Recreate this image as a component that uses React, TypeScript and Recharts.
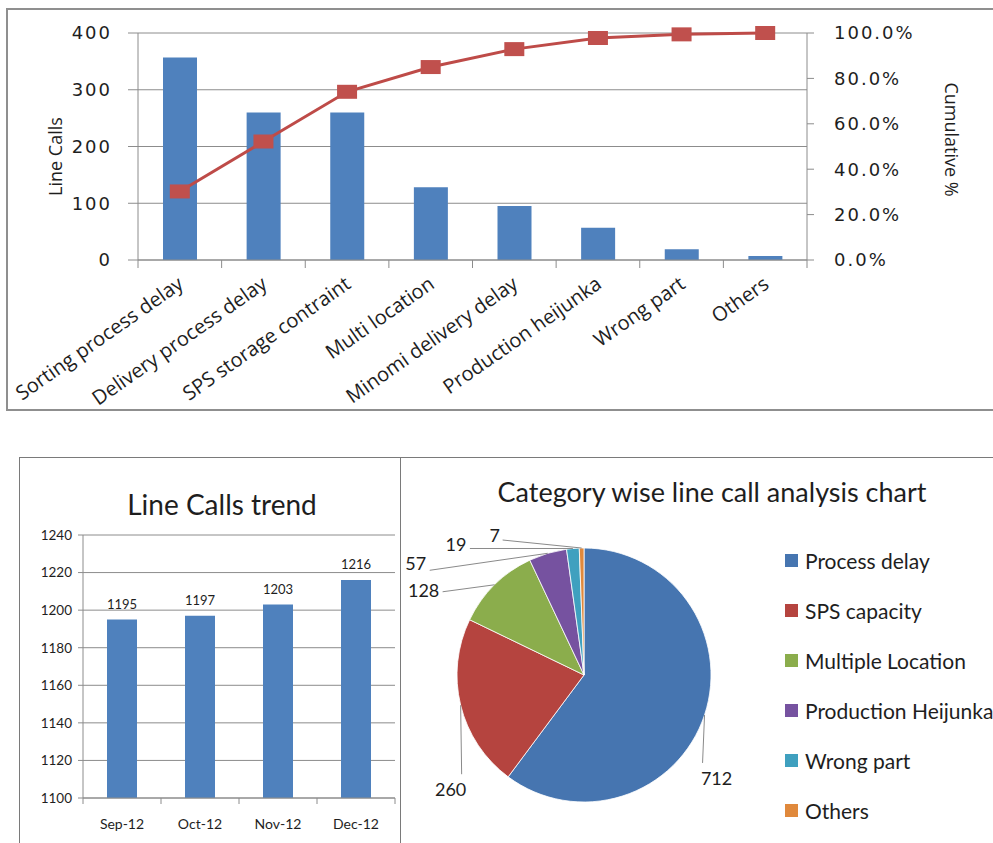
import React from 'react'
import {
    ComposedChart, BarChart, PieChart, Bar, Line, Pie, Cell, XAxis, YAxis,
    CartesianGrid, LabelList, Legend,
} from 'recharts'

// Pareto of line calls by cause
const PARETO_CATEGORIES = [
    'Sorting process delay', 'Delivery process delay', 'SPS storage contraint', 'Multi location',
    'Minomi delivery delay', 'Production heijunka', 'Wrong part', 'Others',
]
const PARETO_CALLS = [357, 260, 260, 128, 95, 57, 19, 7]
const PARETO_CUMULATIVE = [30.2, 52.2, 74.1, 85.0, 92.9, 97.8, 99.4, 100]
const CALL_TICKS = [0, 100, 200, 300, 400]
const CUM_TICKS = [0, 20, 40, 60, 80, 100]

// monthly trend
const TREND_MONTHS = ['Sep-12', 'Oct-12', 'Nov-12', 'Dec-12']
const TREND_CALLS = [1195, 1197, 1203, 1216]
const TREND_TICKS = [1100, 1120, 1140, 1160, 1180, 1200, 1220, 1240]

// category split
const PIE_NAMES = ['Process delay', 'SPS capacity', 'Multiple Location', 'Production Heijunka', 'Wrong part', 'Others']
const PIE_VALUES = [712, 260, 128, 57, 19, 7]
const PIE_COLORS = ['#4675B0', '#B5443F', '#8BAD4C', '#7652A0', '#3FA0BF', '#E0893C']

// leader line end (dx, dy from slice edge) and text offset from that end
const PIE_LABEL_LAYOUT = [
    { dx: -2, dy: 48, tx: 14, ty: 15 },
    { dx: 1, dy: 69, tx: -11, ty: 15 },
    { dx: -52, dy: 7, tx: -19, ty: -2 },
    { dx: -118, dy: 17, tx: -14, ty: -7 },
    { dx: -103, dy: 0, tx: -14, ty: -4 },
    { dx: -79, dy: -8, tx: -8, ty: -5 },
]

const paretoData = PARETO_CATEGORIES.map((name, i) => ({ name, calls: PARETO_CALLS[i], cum: PARETO_CUMULATIVE[i] }))
const trendData = TREND_MONTHS.map((month, i) => ({ month, calls: TREND_CALLS[i] }))
const pieData = PIE_NAMES.map((name, i) => ({ name, value: PIE_VALUES[i] }))

const GRID = '#8c8c8c'
const TEXT = '#1e1e1e'
const TOP_W = 993
const TOP_LEFT = 138
const TOP_RIGHT = 186
const TOP_STEP = (TOP_W - TOP_LEFT - TOP_RIGHT) / PARETO_CATEGORIES.length
const TREND_STEP = (380 - 63 - 5) / TREND_MONTHS.length
const RAD = Math.PI / 180

const ParetoTick = (props: any) => {
    const { x, y, payload, index } = props
    const half = TOP_STEP / 2
    return (
        <g>
            <line x1={x - half} x2={x - half} y1={y} y2={y + 8} stroke={GRID} />
            {index === PARETO_CATEGORIES.length - 1 && (
                <line x1={x + half} x2={x + half} y1={y} y2={y + 8} stroke={GRID} />
            )}
            <text
                transform={`translate(${x + 5},${y + 27}) rotate(-35)`}
                textAnchor="end"
                fontFamily="Open Sans"
                fontSize={20}
                fill={TEXT}
            >
                {payload.value}
            </text>
        </g>
    )
}

const TrendTick = (props: any) => {
    const { x, y, payload, index } = props
    const half = TREND_STEP / 2
    return (
        <g>
            <line x1={x - half} x2={x - half} y1={y} y2={y + 6} stroke={GRID} />
            {index === TREND_MONTHS.length - 1 && (
                <line x1={x + half} x2={x + half} y1={y} y2={y + 6} stroke={GRID} />
            )}
            <text x={x} y={y + 25} textAnchor="middle" dominantBaseline="central" fontFamily="Lato" fontSize={14} fill={TEXT}>
                {payload.value}
            </text>
        </g>
    )
}

const SquareDot = (props: any) => {
    const { cx, cy, index } = props
    return <rect key={index} x={cx - 10} y={cy - 7} width={20} height={14} fill="#C0504D" />
}

const axisTitle = (text: string, dx: number, dy: number, angle: number) => (props: any) => {
    const vb = props.viewBox
    const x = vb.x + dx
    const y = vb.y + vb.height / 2 + dy
    return (
        <text x={x} y={y} transform={`rotate(${angle} ${x} ${y})`} textAnchor="middle" dominantBaseline="central"
            fontFamily="Open Sans" fontSize={18} fill={TEXT}>
            {text}
        </text>
    )
}

const renderPieLabel = (props: any) => {
    const { cx, cy, midAngle, outerRadius, value, index } = props
    const l = PIE_LABEL_LAYOUT[index]
    const ax = cx + outerRadius * Math.cos(-midAngle * RAD)
    const ay = cy + outerRadius * Math.sin(-midAngle * RAD)
    const ex = ax + l.dx
    const ey = ay + l.dy
    return (
        <g key={index}>
            <polyline points={`${ax},${ay} ${ex},${ey}`} stroke="#8a8a8a" fill="none" />
            <text x={ex + l.tx} y={ey + l.ty} textAnchor="middle" dominantBaseline="central"
                fontFamily="Lato" fontSize={18} fill={TEXT}>
                {value}
            </text>
        </g>
    )
}

// legend kept in the data order (the built-in one sorts by name)
const PieLegend = () => (
    <div>
        {pieData.map((d, i) => (
            <div key={d.name} style={{ height: 50, display: 'flex', alignItems: 'center', whiteSpace: 'nowrap' }}>
                <span style={{ width: 13, height: 13, background: PIE_COLORS[i], marginRight: 7, display: 'inline-block' }} />
                <span style={{ fontFamily: 'Lato', fontSize: 21, color: TEXT }}>{d.name}</span>
            </div>
        ))}
    </div>
)

export default function App() {
    return (
        <div style={{ position: 'absolute', left: 0, top: 0, width: 993, height: 843, background: '#fff', overflow: 'hidden' }}>
            {/* frames */}
            <div style={{ position: 'absolute', left: 6, top: 8, width: 1010, height: 399, border: '2px solid #8f8f8f' }} />
            <div style={{ position: 'absolute', left: 19, top: 457, width: 380, height: 420, border: '1.5px solid #7a7a7a' }} />
            <div style={{ position: 'absolute', left: 400, top: 457, width: 620, height: 420, borderTop: '1.5px solid #7a7a7a' }} />

            <div style={{ position: 'absolute', left: 0, top: 0 }}>
                <ComposedChart width={TOP_W} height={410} data={paretoData} margin={{ top: 33, right: 0, bottom: 0, left: 0 }}>
                    <CartesianGrid yAxisId="left" vertical={false} stroke={GRID} />
                    <XAxis dataKey="name" interval={0} height={150} tickSize={0} tickMargin={0} stroke={GRID}
                        tick={(p: any) => <ParetoTick {...p} />} />
                    <YAxis yAxisId="left" width={TOP_LEFT} domain={[0, 400]} ticks={CALL_TICKS} stroke={GRID}
                        tickSize={10} tickMargin={16}
                        tick={{ fontFamily: 'DejaVu Sans', fontSize: 18, letterSpacing: 2, fill: TEXT }}
                        label={{ content: axisTitle('Line Calls', 55, 10, -90) }} />
                    <YAxis yAxisId="right" orientation="right" width={TOP_RIGHT} domain={[0, 100]} ticks={CUM_TICKS}
                        stroke={GRID} tickSize={7} tickMargin={20}
                        tickFormatter={(v: number) => v.toFixed(1) + '%'}
                        tick={{ fontFamily: 'DejaVu Sans', fontSize: 18, letterSpacing: 2, fill: TEXT }}
                        label={{ content: axisTitle('Cumulative %', 145, -7, 90) }} />
                    <Bar yAxisId="left" dataKey="calls" fill="#4F81BD" barSize={34} isAnimationActive={false} />
                    <Line yAxisId="right" type="linear" dataKey="cum" stroke="#BE4B48" strokeWidth={3}
                        dot={(p: any) => <SquareDot {...p} />} activeDot={false} isAnimationActive={false} />
                </ComposedChart>
            </div>

            <div style={{ position: 'absolute', left: 222, top: 490, transform: 'translateX(-50%)', fontFamily: 'Lato', fontSize: 28, color: TEXT, whiteSpace: 'nowrap', lineHeight: 1 }}>
                Line Calls trend
            </div>
            <div style={{ position: 'absolute', left: 20, top: 458 }}>
                <BarChart width={380} height={385} data={trendData} margin={{ top: 77, right: 5, bottom: 0, left: 0 }}>
                    <CartesianGrid vertical={false} stroke={GRID} />
                    <XAxis dataKey="month" interval={0} height={45} tickSize={0} tickMargin={0} stroke={GRID}
                        tick={(p: any) => <TrendTick {...p} />} />
                    <YAxis width={63} domain={[1100, 1240]} ticks={TREND_TICKS} stroke={GRID} tickSize={5} tickMargin={6}
                        tick={{ fontFamily: 'Lato', fontSize: 13.5, fill: TEXT }} />
                    <Bar dataKey="calls" fill="#4F81BD" barSize={30} isAnimationActive={false}>
                        <LabelList dataKey="calls" position="top" offset={11}
                            style={{ fontFamily: 'Lato', fontSize: 13, fill: TEXT }} />
                    </Bar>
                </BarChart>
            </div>

            <div style={{ position: 'absolute', left: 712, top: 478, transform: 'translateX(-50%)', fontFamily: 'Lato', fontSize: 27, color: TEXT, whiteSpace: 'nowrap', lineHeight: 1 }}>
                Category wise line call analysis chart
            </div>
            <div style={{ position: 'absolute', left: 400, top: 458 }}>
                <PieChart width={593} height={385} margin={{ top: 0, right: 0, bottom: 0, left: 0 }}>
                    <Pie data={pieData} dataKey="value" nameKey="name" cx={184} cy={217} outerRadius={127}
                        startAngle={90} endAngle={-270} stroke="#ffffff" strokeWidth={0.8}
                        label={renderPieLabel} labelLine={false} isAnimationActive={false}>
                        {pieData.map((_, i) => (
                            <Cell key={i} fill={PIE_COLORS[i]} />
                        ))}
                    </Pie>
                    <Legend layout="vertical" align="right" verticalAlign="top"
                        wrapperStyle={{ left: 385, top: 77, width: 260 }}
                        content={() => <PieLegend />} />
                </PieChart>
            </div>
        </div>
    )
}
